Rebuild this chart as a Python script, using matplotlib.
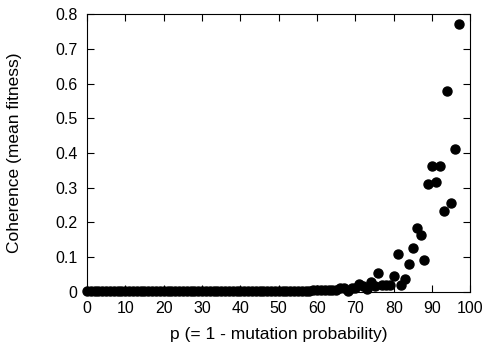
import matplotlib
matplotlib.use("Agg")
import matplotlib.pyplot as plt
from matplotlib.ticker import FuncFormatter, MultipleLocator

plt.rcParams['font.family'] = ['Liberation Sans', 'DejaVu Sans']

# p values (integer steps) and mean fitness
p = list(range(0, 98))
coherence = [
    0.001, 0.001, 0.001, 0.001, 0.001, 0.001, 0.001, 0.001, 0.001, 0.001,
    0.001, 0.001, 0.001, 0.001, 0.001, 0.001, 0.001, 0.001, 0.001, 0.001,
    0.001, 0.001, 0.001, 0.001, 0.001, 0.001, 0.001, 0.001, 0.001, 0.001,
    0.001, 0.001, 0.001, 0.001, 0.001, 0.001, 0.001, 0.001, 0.001, 0.001,
    0.001, 0.001, 0.001, 0.001, 0.001, 0.001, 0.002, 0.002, 0.002, 0.002,
    0.002, 0.002, 0.002, 0.002, 0.003, 0.003, 0.003, 0.003, 0.003, 0.004,
    0.004, 0.004, 0.005, 0.004, 0.005, 0.004, 0.010, 0.011, 0.002, 0.010,
    0.010, 0.023, 0.015, 0.009, 0.027, 0.017, 0.055, 0.020, 0.020, 0.020,
    0.044, 0.108, 0.020, 0.036, 0.080, 0.127, 0.184, 0.164, 0.091, 0.310,
    0.363, 0.315, 0.363, 0.233, 0.580, 0.257, 0.412, 0.772,
]

fig = plt.figure(figsize=(4.87, 3.45), dpi=100)
ax = fig.add_axes([0.1786, 0.1545, 0.7874, 0.8041])

ax.plot(p, coherence, 'o', color='black', markersize=6.5, clip_on=False)

ax.set_xlim(0, 100)
ax.set_ylim(0, 0.8)
ax.xaxis.set_major_locator(MultipleLocator(10))
ax.yaxis.set_major_locator(MultipleLocator(0.1))
ax.yaxis.set_major_formatter(FuncFormatter(lambda v, pos: '%g' % round(v, 2)))
ax.tick_params(direction='in', top=True, right=True, length=5, width=0.8,
               labelsize=11.5, pad=7)

ax.set_xlabel('p (= 1 - mutation probability)', fontsize=12.5)
ax.set_ylabel('Coherence (mean fitness)', fontsize=12.5)
ax.xaxis.label.set_va('center')
ax.yaxis.label.set_va('center')
ax.xaxis.set_label_coords(0.5, -0.156)
ax.yaxis.set_label_coords(-0.188, 0.5)

fig.savefig('out.png', dpi=100)
